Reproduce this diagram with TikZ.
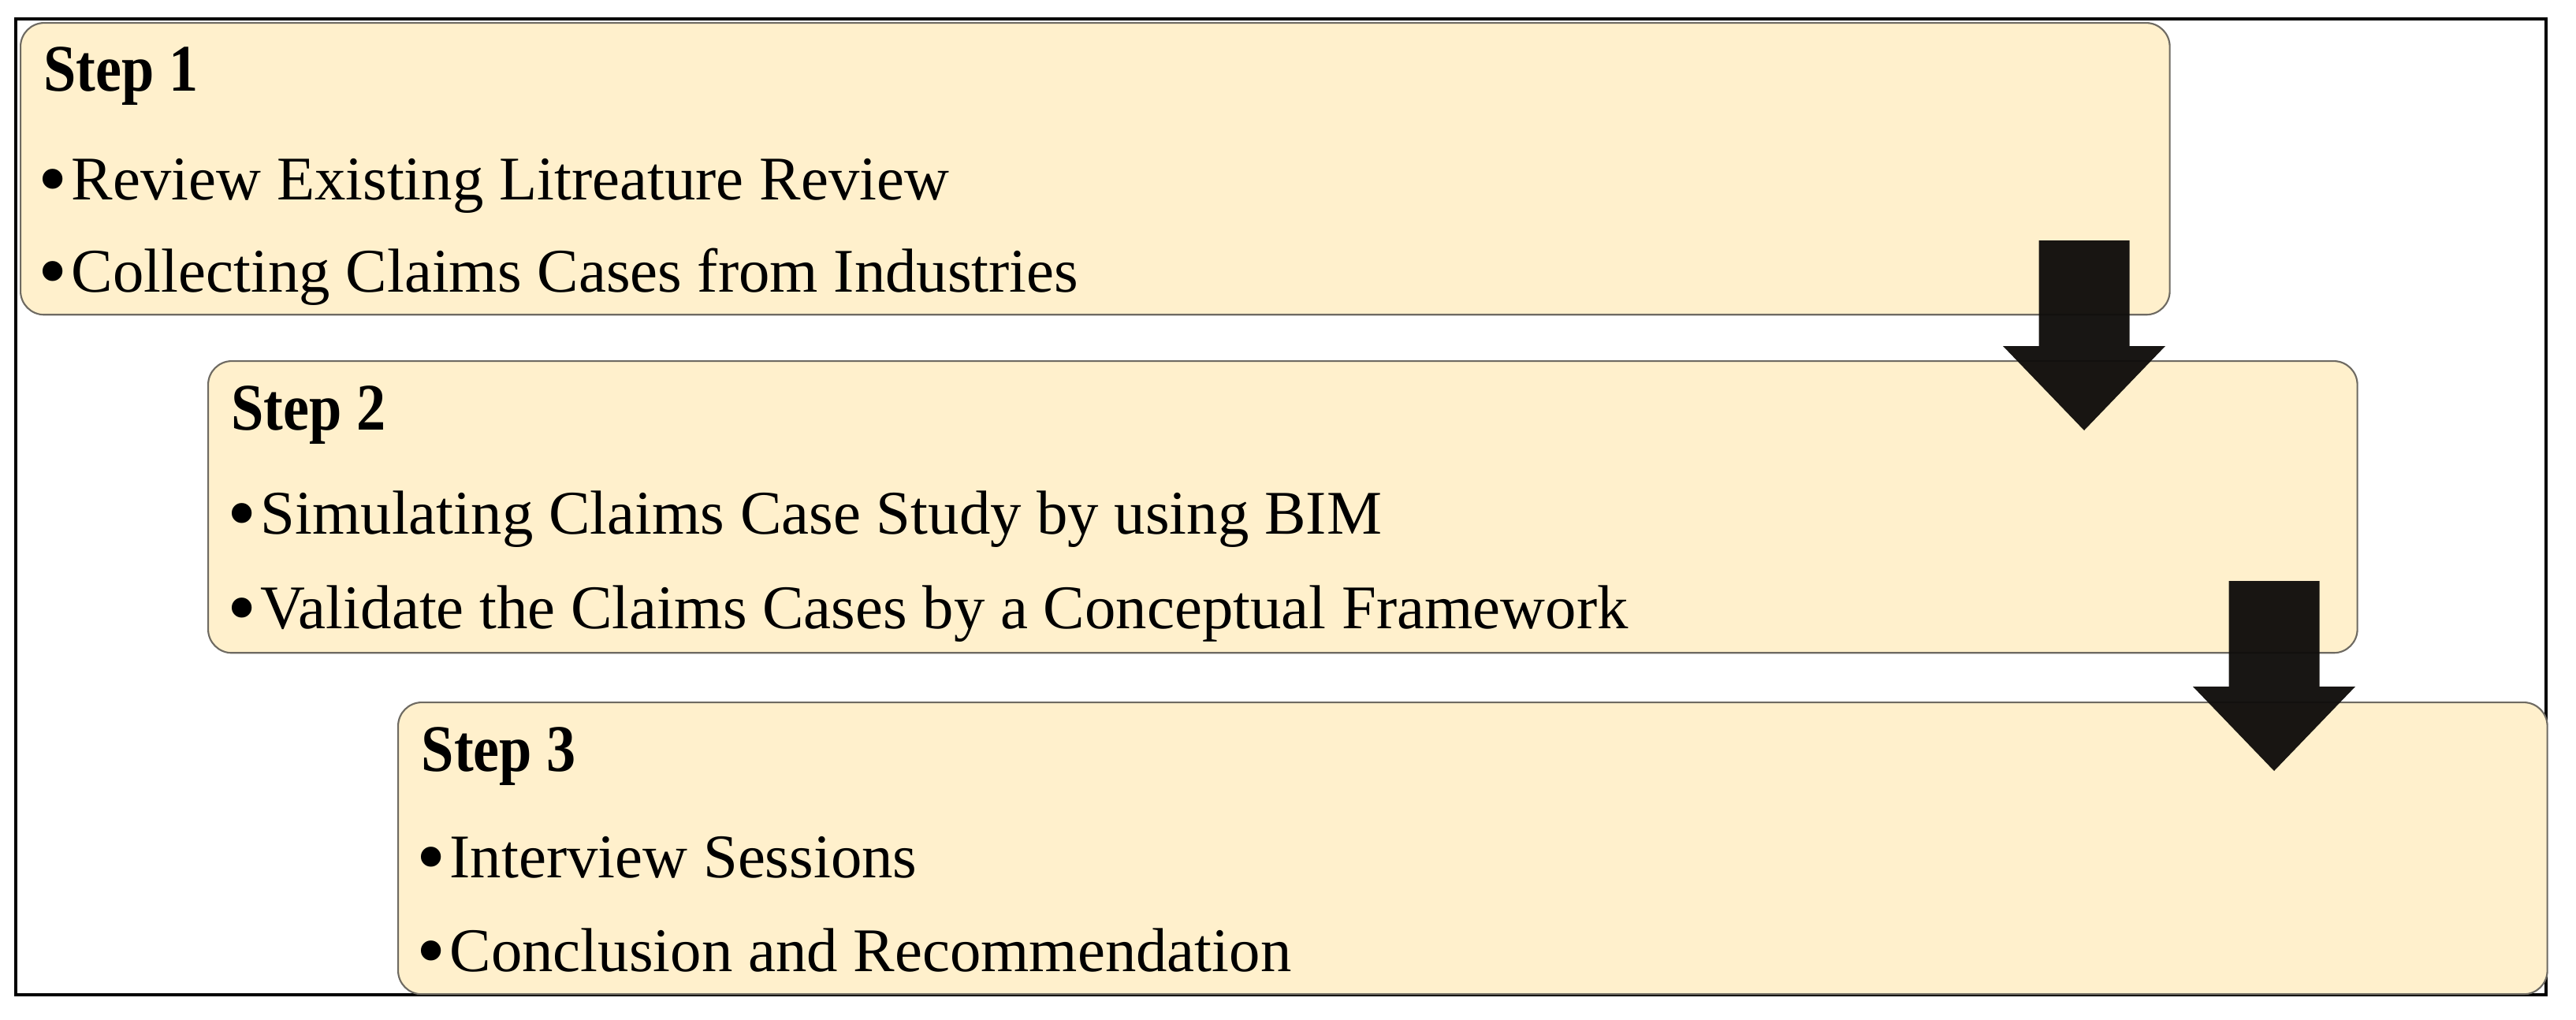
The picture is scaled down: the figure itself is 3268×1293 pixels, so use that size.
\documentclass[tikz,border=0pt]{standalone}
\usepackage{fontspec}
\setmainfont{Liberation Serif}
\definecolor{boxfill}{HTML}{FFF0CC}
\definecolor{boxline}{HTML}{6E6A62}
\definecolor{arrowfill}{HTML}{0F0D0B}
\newcommand{\bigbul}{\raisebox{-0.12em}{\scalebox{1.35}{•}}\hspace{0.06em}}
\begin{document}
\begin{tikzpicture}[x=0.01cm,y=-0.01cm,
  stepbox/.style={draw=boxline, line width=0.6pt, fill=boxfill, rounded corners=0.3cm,
    anchor=north west, minimum width=27.25cm, minimum height=3.70cm, inner sep=0pt},
  steptitle/.style={anchor=base west, inner sep=0pt, font=\fontsize{24pt}{28pt}\selectfont\bfseries},
  stepitem/.style={anchor=base west, inner sep=0pt, font=\fontsize{22.4pt}{26pt}\selectfont},
  blockarrow/.style={fill=arrowfill, fill opacity=0.96}
]
\useasboundingbox (0,0) rectangle (3268,1293);
\fill[white] (0,0) rectangle (3268,1293);
\draw[line width=0.9pt] (20,24) rectangle (3230,1262);

% boxes
\node[stepbox] (b1) at (25,28) {};
\node[stepbox] (b2) at (263,457) {};
\node[stepbox] (b3) at (504,890) {};

% texts
\node[steptitle] (t1) at (55,115) {\scalebox{0.88}[1]{Step 1}};
\node[stepitem] (i11) at (48,253) {\bigbul Review Existing Litreature Review};
\node[stepitem] (i12) at (48,370) {\bigbul Collecting Claims Cases from Industries};

\node[steptitle] (t2) at (293,545) {\scalebox{0.88}[1]{Step 2}};
\node[stepitem] (i21) at (288,677) {\bigbul Simulating Claims Case Study by using BIM};
\node[stepitem] (i22) at (288,797) {\bigbul Validate the Claims Cases by a Conceptual Framework};

\node[steptitle] (t3) at (534,978) {\scalebox{0.88}[1]{Step 3}};
\node[stepitem] (i31) at (528,1113) {\bigbul Interview Sessions};
\node[stepitem] (i32) at (528,1232) {\bigbul Conclusion and Recommendation};

% arrows (tips)
\coordinate (a1) at (2644,546);
\coordinate (a2) at (2885,978);
\foreach \c in {a1,a2}{
  \fill[blockarrow] (\c) -- ++(-103,-107) -- ++(45.5,0) -- ++(0,-134) -- ++(115,0)
     -- ++(0,134) -- ++(45.5,0) -- cycle;
}
\end{tikzpicture}
\end{document}
